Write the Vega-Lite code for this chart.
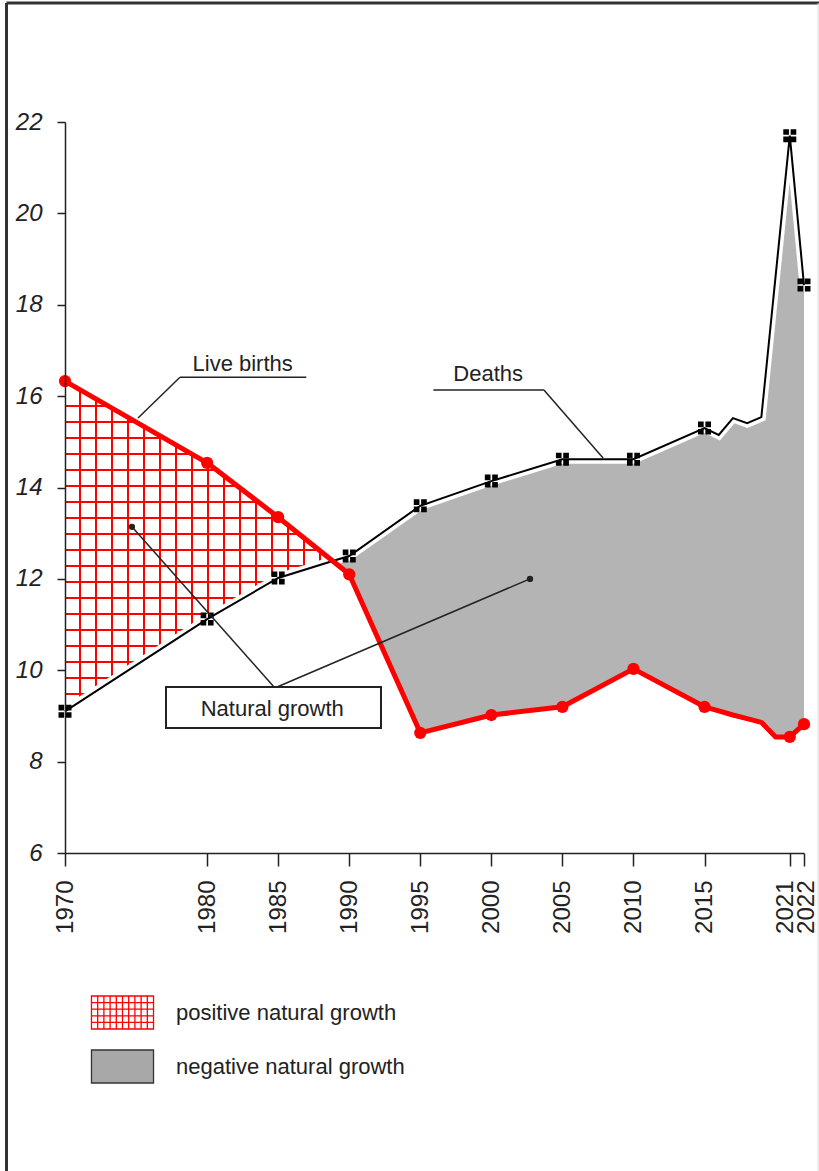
{
  "$schema": "https://vega.github.io/schema/vega-lite/v6.json",
  "width": 739,
  "height": 731,
  "autosize": {"type": "none"},
  "padding": {"left": 65, "top": 122, "right": 15, "bottom": 318},
  "background": "white",
  "config": {
    "view": {"stroke": null},
    "font": "Liberation Sans",
    "legend": {
      "orient": "none",
      "legendX": 40,
      "legendY": 873,
      "title": null,
      "symbolSize": 1089,
      "symbolStrokeWidth": 1.3,
      "symbolOpacity": 1,
      "labelFont": "Liberation Sans",
      "labelFontSize": 22,
      "labelColor": "#222222",
      "labelLimit": 400,
      "labelOffset": 36,
      "rowPadding": 15
    }
  },
  "datasets": {
    "series": [
      {"year": 1970, "births": 16.33, "deaths": 9.1},
      {"year": 1980, "births": 14.54, "deaths": 11.12},
      {"year": 1985, "births": 13.35, "deaths": 12.02},
      {"year": 1988.84, "births": 12.39, "deaths": 12.39},
      {"year": 1990, "births": 12.1, "deaths": 12.5},
      {"year": 1995, "births": 8.63, "deaths": 13.6},
      {"year": 2000, "births": 9.02, "deaths": 14.14},
      {"year": 2005, "births": 9.2, "deaths": 14.62},
      {"year": 2010, "births": 10.03, "deaths": 14.62},
      {"year": 2015, "births": 9.2, "deaths": 15.3},
      {"year": 2016, "births": 9.11, "deaths": 15.15},
      {"year": 2017, "births": 9.02, "deaths": 15.52},
      {"year": 2018, "births": 8.94, "deaths": 15.41},
      {"year": 2019, "births": 8.86, "deaths": 15.54},
      {"year": 2020, "births": 8.54, "deaths": 18.62},
      {"year": 2021, "births": 8.54, "deaths": 21.7},
      {"year": 2022, "births": 8.82, "deaths": 18.43}
    ],
    "leaders": [
      {"x0": 1975.14, "y0": 15.52, "x1": 1978.09, "y1": 16.412},
      {"x0": 1978.09, "y0": 16.412, "x1": 1986.98, "y1": 16.412},
      {"x0": 1995.92, "y0": 16.134, "x1": 2003.7, "y1": 16.134},
      {"x0": 2003.7, "y0": 16.134, "x1": 2007.86, "y1": 14.646},
      {"x0": 1984.71, "y0": 9.633, "x1": 1974.71, "y1": 13.14},
      {"x0": 1984.92, "y0": 9.633, "x1": 2002.72, "y1": 12.0}
    ],
    "dots": [
      {"year": 1974.71, "value": 13.14},
      {"year": 2002.72, "value": 12.0}
    ],
    "box": [
      {"x0": 1977.107, "x1": 1992.235, "y0": 9.633, "y1": 8.736}
    ],
    "labels": [
      {"text": "Live births", "year": 1982.5, "value": 16.714},
      {"text": "Deaths", "year": 1999.78, "value": 16.495},
      {"text": "Natural growth", "year": 1984.58, "value": 9.15}
    ],
    "legendItems": [
      {"type": "positive natural growth"},
      {"type": "negative natural growth"}
    ]
  },
  "layer": [
    {
      "data": {"values": [{}]},
      "mark": {"type": "rule", "stroke": "#333333", "strokeWidth": 3},
      "encoding": {
        "x": {"datum": 1965.884, "type": "quantitative", "scale": {"domain": [1970, 2022], "nice": false, "zero": false}},
        "y": {"datum": 24.605, "type": "quantitative", "scale": {"domain": [6, 22], "nice": false, "zero": false}},
        "y2": {"datum": -1.1}
      }
    },
    {
      "data": {"values": [{}]},
      "mark": {"type": "rule", "stroke": "#333333", "strokeWidth": 3},
      "encoding": {
        "x": {"datum": 1965.884, "type": "quantitative"},
        "x2": {"datum": 2023.2},
        "y": {"datum": 24.605, "type": "quantitative"}
      }
    },
    {
      "data": {"values": [{}]},
      "mark": {"type": "rule", "stroke": "#d8d8d8", "strokeWidth": 1},
      "encoding": {
        "x": {"datum": 2022.99, "type": "quantitative"},
        "y": {"datum": 24.605, "type": "quantitative"},
        "y2": {"datum": -1.1}
      }
    },
    {
      "data": {"name": "series"},
      "transform": [{"filter": "datum.births <= datum.deaths"}],
      "mark": {"type": "area", "fill": "#b4b4b4"},
      "encoding": {
        "x": {"field": "year", "type": "quantitative", "title": null},
        "y": {"field": "births", "type": "quantitative"},
        "y2": {"field": "deaths"}
      }
    },
    {
      "data": {"name": "series"},
      "transform": [{"filter": "datum.births >= datum.deaths"}],
      "mark": {
        "type": "area",
        "fill": {
          "gradient": "linear", "x1": 0, "y1": 0, "x2": 1, "y2": 0,
          "stops": [
            {"offset": 0.05228, "color": "rgba(255,0,0,0)"}, {"offset": 0.05228, "color": "#ff0000"}, {"offset": 0.05975, "color": "#ff0000"}, {"offset": 0.05975, "color": "rgba(255,0,0,0)"},
            {"offset": 0.11202, "color": "rgba(255,0,0,0)"}, {"offset": 0.11202, "color": "#ff0000"}, {"offset": 0.11949, "color": "#ff0000"}, {"offset": 0.11949, "color": "rgba(255,0,0,0)"},
            {"offset": 0.17177, "color": "rgba(255,0,0,0)"}, {"offset": 0.17177, "color": "#ff0000"}, {"offset": 0.17924, "color": "#ff0000"}, {"offset": 0.17924, "color": "rgba(255,0,0,0)"},
            {"offset": 0.23152, "color": "rgba(255,0,0,0)"}, {"offset": 0.23152, "color": "#ff0000"}, {"offset": 0.23898, "color": "#ff0000"}, {"offset": 0.23898, "color": "rgba(255,0,0,0)"},
            {"offset": 0.29126, "color": "rgba(255,0,0,0)"}, {"offset": 0.29126, "color": "#ff0000"}, {"offset": 0.29873, "color": "#ff0000"}, {"offset": 0.29873, "color": "rgba(255,0,0,0)"},
            {"offset": 0.35101, "color": "rgba(255,0,0,0)"}, {"offset": 0.35101, "color": "#ff0000"}, {"offset": 0.35848, "color": "#ff0000"}, {"offset": 0.35848, "color": "rgba(255,0,0,0)"},
            {"offset": 0.41075, "color": "rgba(255,0,0,0)"}, {"offset": 0.41075, "color": "#ff0000"}, {"offset": 0.41822, "color": "#ff0000"}, {"offset": 0.41822, "color": "rgba(255,0,0,0)"},
            {"offset": 0.4705, "color": "rgba(255,0,0,0)"}, {"offset": 0.4705, "color": "#ff0000"}, {"offset": 0.47797, "color": "#ff0000"}, {"offset": 0.47797, "color": "rgba(255,0,0,0)"},
            {"offset": 0.53025, "color": "rgba(255,0,0,0)"}, {"offset": 0.53025, "color": "#ff0000"}, {"offset": 0.53771, "color": "#ff0000"}, {"offset": 0.53771, "color": "rgba(255,0,0,0)"},
            {"offset": 0.58999, "color": "rgba(255,0,0,0)"}, {"offset": 0.58999, "color": "#ff0000"}, {"offset": 0.59746, "color": "#ff0000"}, {"offset": 0.59746, "color": "rgba(255,0,0,0)"},
            {"offset": 0.64974, "color": "rgba(255,0,0,0)"}, {"offset": 0.64974, "color": "#ff0000"}, {"offset": 0.65721, "color": "#ff0000"}, {"offset": 0.65721, "color": "rgba(255,0,0,0)"},
            {"offset": 0.70949, "color": "rgba(255,0,0,0)"}, {"offset": 0.70949, "color": "#ff0000"}, {"offset": 0.71695, "color": "#ff0000"}, {"offset": 0.71695, "color": "rgba(255,0,0,0)"},
            {"offset": 0.76923, "color": "rgba(255,0,0,0)"}, {"offset": 0.76923, "color": "#ff0000"}, {"offset": 0.7767, "color": "#ff0000"}, {"offset": 0.7767, "color": "rgba(255,0,0,0)"},
            {"offset": 0.82898, "color": "rgba(255,0,0,0)"}, {"offset": 0.82898, "color": "#ff0000"}, {"offset": 0.83645, "color": "#ff0000"}, {"offset": 0.83645, "color": "rgba(255,0,0,0)"},
            {"offset": 0.88872, "color": "rgba(255,0,0,0)"}, {"offset": 0.88872, "color": "#ff0000"}, {"offset": 0.89619, "color": "#ff0000"}, {"offset": 0.89619, "color": "rgba(255,0,0,0)"},
            {"offset": 0.94847, "color": "rgba(255,0,0,0)"}, {"offset": 0.94847, "color": "#ff0000"}, {"offset": 0.95594, "color": "#ff0000"}, {"offset": 0.95594, "color": "rgba(255,0,0,0)"}
          ]
        }
      },
      "encoding": {
        "x": {"field": "year", "type": "quantitative"},
        "y": {"field": "births", "type": "quantitative"},
        "y2": {"field": "deaths"}
      }
    },
    {
      "data": {"name": "series"},
      "transform": [{"filter": "datum.births >= datum.deaths"}],
      "mark": {
        "type": "area",
        "fill": {
          "gradient": "linear", "x1": 0, "y1": 0, "x2": 0, "y2": 1,
          "stops": [
            {"offset": 0.07264, "color": "rgba(255,0,0,0)"}, {"offset": 0.07264, "color": "#ff0000"}, {"offset": 0.07869, "color": "#ff0000"}, {"offset": 0.07869, "color": "rgba(255,0,0,0)"},
            {"offset": 0.12107, "color": "rgba(255,0,0,0)"}, {"offset": 0.12107, "color": "#ff0000"}, {"offset": 0.12712, "color": "#ff0000"}, {"offset": 0.12712, "color": "rgba(255,0,0,0)"},
            {"offset": 0.16949, "color": "rgba(255,0,0,0)"}, {"offset": 0.16949, "color": "#ff0000"}, {"offset": 0.17554, "color": "#ff0000"}, {"offset": 0.17554, "color": "rgba(255,0,0,0)"},
            {"offset": 0.21792, "color": "rgba(255,0,0,0)"}, {"offset": 0.21792, "color": "#ff0000"}, {"offset": 0.22397, "color": "#ff0000"}, {"offset": 0.22397, "color": "rgba(255,0,0,0)"},
            {"offset": 0.26634, "color": "rgba(255,0,0,0)"}, {"offset": 0.26634, "color": "#ff0000"}, {"offset": 0.2724, "color": "#ff0000"}, {"offset": 0.2724, "color": "rgba(255,0,0,0)"},
            {"offset": 0.31477, "color": "rgba(255,0,0,0)"}, {"offset": 0.31477, "color": "#ff0000"}, {"offset": 0.32082, "color": "#ff0000"}, {"offset": 0.32082, "color": "rgba(255,0,0,0)"},
            {"offset": 0.3632, "color": "rgba(255,0,0,0)"}, {"offset": 0.3632, "color": "#ff0000"}, {"offset": 0.36925, "color": "#ff0000"}, {"offset": 0.36925, "color": "rgba(255,0,0,0)"},
            {"offset": 0.41162, "color": "rgba(255,0,0,0)"}, {"offset": 0.41162, "color": "#ff0000"}, {"offset": 0.41768, "color": "#ff0000"}, {"offset": 0.41768, "color": "rgba(255,0,0,0)"},
            {"offset": 0.46005, "color": "rgba(255,0,0,0)"}, {"offset": 0.46005, "color": "#ff0000"}, {"offset": 0.4661, "color": "#ff0000"}, {"offset": 0.4661, "color": "rgba(255,0,0,0)"},
            {"offset": 0.50847, "color": "rgba(255,0,0,0)"}, {"offset": 0.50847, "color": "#ff0000"}, {"offset": 0.51453, "color": "#ff0000"}, {"offset": 0.51453, "color": "rgba(255,0,0,0)"},
            {"offset": 0.5569, "color": "rgba(255,0,0,0)"}, {"offset": 0.5569, "color": "#ff0000"}, {"offset": 0.56295, "color": "#ff0000"}, {"offset": 0.56295, "color": "rgba(255,0,0,0)"},
            {"offset": 0.60533, "color": "rgba(255,0,0,0)"}, {"offset": 0.60533, "color": "#ff0000"}, {"offset": 0.61138, "color": "#ff0000"}, {"offset": 0.61138, "color": "rgba(255,0,0,0)"},
            {"offset": 0.65375, "color": "rgba(255,0,0,0)"}, {"offset": 0.65375, "color": "#ff0000"}, {"offset": 0.65981, "color": "#ff0000"}, {"offset": 0.65981, "color": "rgba(255,0,0,0)"},
            {"offset": 0.70218, "color": "rgba(255,0,0,0)"}, {"offset": 0.70218, "color": "#ff0000"}, {"offset": 0.70823, "color": "#ff0000"}, {"offset": 0.70823, "color": "rgba(255,0,0,0)"},
            {"offset": 0.75061, "color": "rgba(255,0,0,0)"}, {"offset": 0.75061, "color": "#ff0000"}, {"offset": 0.75666, "color": "#ff0000"}, {"offset": 0.75666, "color": "rgba(255,0,0,0)"},
            {"offset": 0.79903, "color": "rgba(255,0,0,0)"}, {"offset": 0.79903, "color": "#ff0000"}, {"offset": 0.80508, "color": "#ff0000"}, {"offset": 0.80508, "color": "rgba(255,0,0,0)"},
            {"offset": 0.84746, "color": "rgba(255,0,0,0)"}, {"offset": 0.84746, "color": "#ff0000"}, {"offset": 0.85351, "color": "#ff0000"}, {"offset": 0.85351, "color": "rgba(255,0,0,0)"},
            {"offset": 0.89588, "color": "rgba(255,0,0,0)"}, {"offset": 0.89588, "color": "#ff0000"}, {"offset": 0.90194, "color": "#ff0000"}, {"offset": 0.90194, "color": "rgba(255,0,0,0)"},
            {"offset": 0.94431, "color": "rgba(255,0,0,0)"}, {"offset": 0.94431, "color": "#ff0000"}, {"offset": 0.95036, "color": "#ff0000"}, {"offset": 0.95036, "color": "rgba(255,0,0,0)"}
          ]
        }
      },
      "encoding": {
        "x": {"field": "year", "type": "quantitative"},
        "y": {"field": "births", "type": "quantitative"},
        "y2": {"field": "deaths"}
      }
    },
    {
      "data": {"name": "series"},
      "mark": {"type": "line", "stroke": "white", "strokeWidth": 9},
      "encoding": {
        "x": {"field": "year", "type": "quantitative"},
        "y": {"field": "deaths", "type": "quantitative"}
      }
    },
    {
      "data": {"name": "series"},
      "mark": {"type": "line", "stroke": "#000000", "strokeWidth": 2},
      "encoding": {
        "x": {"field": "year", "type": "quantitative"},
        "y": {"field": "deaths", "type": "quantitative"}
      }
    },
    {
      "data": {"name": "series"},
      "mark": {"type": "line", "stroke": "#ff0000", "strokeWidth": 5, "strokeJoin": "round"},
      "encoding": {
        "x": {"field": "year", "type": "quantitative"},
        "y": {"field": "births", "type": "quantitative"}
      }
    },
    {
      "data": {"name": "series"},
      "transform": [{"filter": "(datum.year % 5 == 0 && datum.year <= 2015) || datum.year >= 2021"}],
      "mark": {"type": "point", "filled": true, "fill": "#000000", "opacity": 1, "size": 169, "shape": "M-1,-1H-0.13V-0.13H-1Z M0.13,-1H1V-0.13H0.13Z M-1,0.13H-0.13V1H-1Z M0.13,0.13H1V1H0.13Z"},
      "encoding": {
        "x": {"field": "year", "type": "quantitative"},
        "y": {"field": "deaths", "type": "quantitative"}
      }
    },
    {
      "data": {"name": "series"},
      "transform": [{"filter": "(datum.year % 5 == 0 && datum.year <= 2015) || datum.year >= 2021"}],
      "mark": {"type": "circle", "fill": "#ff0000", "opacity": 1, "size": 150},
      "encoding": {
        "x": {"field": "year", "type": "quantitative"},
        "y": {"field": "births", "type": "quantitative"}
      }
    },
    {
      "data": {"name": "leaders"},
      "mark": {"type": "rule", "stroke": "#222222", "strokeWidth": 1.5},
      "encoding": {
        "x": {"field": "x0", "type": "quantitative"},
        "y": {"field": "y0", "type": "quantitative"},
        "x2": {"field": "x1"},
        "y2": {"field": "y1"}
      }
    },
    {
      "data": {"name": "dots"},
      "mark": {"type": "circle", "fill": "#222222", "opacity": 1, "size": 40},
      "encoding": {
        "x": {"field": "year", "type": "quantitative"},
        "y": {"field": "value", "type": "quantitative"}
      }
    },
    {
      "data": {"name": "box"},
      "mark": {"type": "rect", "fill": "white", "stroke": "#222222", "strokeWidth": 2},
      "encoding": {
        "x": {"field": "x0", "type": "quantitative"},
        "x2": {"field": "x1"},
        "y": {"field": "y0", "type": "quantitative"},
        "y2": {"field": "y1"}
      }
    },
    {
      "data": {"name": "labels"},
      "mark": {"type": "text", "font": "Liberation Sans", "fontSize": 22, "fill": "#222222", "align": "center", "baseline": "middle"},
      "encoding": {
        "x": {"field": "year", "type": "quantitative"},
        "y": {"field": "value", "type": "quantitative"},
        "text": {"field": "text"}
      }
    },
    {
      "data": {"name": "legendItems"},
      "transform": [{"filter": "datum.type == 'none'"}],
      "mark": {"type": "point", "filled": true},
      "encoding": {
        "fill": {"field": "type", "type": "nominal", "scale": {"domain": ["positive natural growth", "negative natural growth"], "range": ["#ffffff", "#a8a8a8"]}},
        "stroke": {"field": "type", "type": "nominal", "scale": {"domain": ["positive natural growth", "negative natural growth"], "range": ["#ff0000", "#333333"]}},
        "shape": {"field": "type", "type": "nominal", "scale": {"domain": ["positive natural growth", "negative natural growth"], "range": ["M-1.88,-1H1.88V1H-1.88Z M-1.504,-1V1 M-1.128,-1V1 M-0.752,-1V1 M-0.376,-1V1 M0,-1V1 M0.376,-1V1 M0.752,-1V1 M1.128,-1V1 M1.504,-1V1 M-1.88,-0.6H1.88 M-1.88,-0.2H1.88 M-1.88,0.2H1.88 M-1.88,0.6H1.88", "M-1.88,-1H1.88V1H-1.88Z"]}}
      }
    }
  ],
  "encoding": {
    "x": {
      "type": "quantitative",
      "axis": {
        "values": [1970, 1980, 1985, 1990, 1995, 2000, 2005, 2010, 2015, 2021, 2022],
        "title": null, "grid": false, "labelAngle": -90, "labelFontSize": 24, "labelColor": "#222222",
        "tickSize": 13, "tickWidth": 1.5, "tickColor": "#222222", "domainColor": "#222222", "domainWidth": 1.5,
        "labelPadding": 14, "labelOverlap": false, "labelFlush": false, "zindex": 1, "format": "d",
        "labelOffset": {"condition": [{"test": "datum.value == 2021", "value": -4}, {"test": "datum.value == 2022", "value": 2}], "value": 0}
      }
    },
    "y": {
      "type": "quantitative",
      "axis": {
        "values": [6, 8, 10, 12, 14, 16, 18, 20, 22],
        "title": null, "grid": false, "labelFontSize": 24, "labelFontStyle": "italic", "labelColor": "#222222",
        "tickSize": 8, "tickWidth": 1.5, "tickColor": "#222222", "domainColor": "#222222", "domainWidth": 1.5,
        "labelPadding": 15, "labelFlush": false, "zindex": 1
      }
    }
  }
}
